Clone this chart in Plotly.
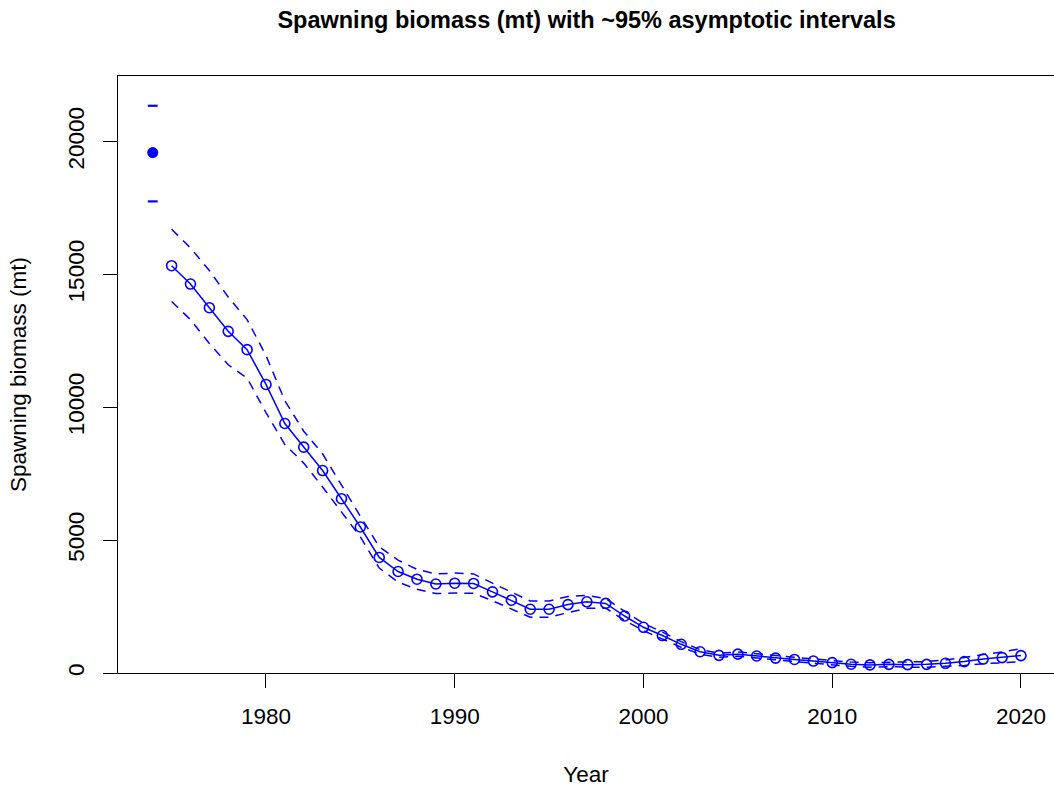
import plotly.graph_objects as go

# Spawning biomass time series (mt) with ~95% asymptotic interval bounds
years = list(range(1974, 2021))
biomass = [19590, 15330, 14640, 13750, 12860, 12170, 10860, 9390, 8500, 7620,
           6560, 5495, 4350, 3820, 3530, 3350, 3380, 3370, 3055, 2740,
           2400, 2400, 2575, 2680, 2620, 2145, 1720, 1410, 1080, 800,
           665, 710, 640, 560, 510, 450, 390, 330, 305, 325,
           315, 325, 365, 430, 525, 580, 655]
upper = [21350, 16700, 16000, 15150, 14150, 13300, 11950, 10250, 9100, 8250,
         7050, 5900, 4750, 4250, 3900, 3730, 3760, 3730, 3380, 3040,
         2710, 2710, 2880, 2920, 2800, 2320, 1870, 1540, 1180, 880,
         740, 790, 720, 640, 590, 530, 470, 410, 390, 410,
         410, 430, 490, 580, 700, 790, 920]
lower = [17750, 13980, 13300, 12400, 11600, 11100, 9800, 8600, 7900, 7000,
         6070, 5120, 3950, 3420, 3150, 2990, 3010, 3000, 2720, 2400,
         2100, 2100, 2280, 2440, 2440, 1980, 1590, 1280, 970, 710,
         590, 630, 560, 480, 430, 370, 310, 250, 220, 240,
         220, 220, 250, 280, 350, 380, 420]
x_ticks = [1980, 1990, 2000, 2010, 2020]
y_ticks = [0, 5000, 10000, 15000, 20000]
y_tick_labels = ["0", "5000", "10000", "15000", "20000"]

BLUE = "#0000FF"
FONT = "Liberation Sans, Arial, sans-serif"

fig = go.Figure()

# interval bounds for the time series (dashed)
for bound in (upper, lower):
    fig.add_trace(go.Scatter(
        x=years[1:], y=bound[1:], mode="lines",
        line=dict(color=BLUE, width=1.5, dash="9px,7px"),
        hoverinfo="skip", showlegend=False))

# main series with open circles
fig.add_trace(go.Scatter(
    x=years[1:], y=biomass[1:], mode="lines+markers",
    line=dict(color=BLUE, width=1.5),
    marker=dict(symbol="circle-open", size=10, color=BLUE,
                line=dict(width=1.6, color=BLUE)),
    showlegend=False))

# virgin biomass: filled point with interval ticks
fig.add_trace(go.Scatter(
    x=[years[0]], y=[biomass[0]], mode="markers",
    marker=dict(symbol="circle", size=11, color=BLUE),
    showlegend=False))
fig.add_trace(go.Scatter(
    x=[years[0], years[0]], y=[upper[0], lower[0]], mode="markers",
    marker=dict(symbol="line-ew", size=7, color=BLUE,
                line=dict(width=2.2, color=BLUE)),
    showlegend=False))

fig.update_layout(
    width=1054, height=787,
    margin=dict(l=118, r=0, t=76, b=114),
    paper_bgcolor="white", plot_bgcolor="white",
    font=dict(family=FONT, size=22, color="black"),
    title=dict(text="<b>Spawning biomass (mt) with ~95% asymptotic intervals</b>",
               x=0.5565, xanchor="center", y=0.985, yanchor="top",
               font=dict(family=FONT, size=23.5, color="black")),
)

fig.update_xaxes(
    range=[1972.16, 2021.75], tickvals=x_ticks,
    ticks="outside", ticklen=14, tickwidth=1.3, tickcolor="black",
    showline=True, linecolor="black", linewidth=1.3, mirror=True,
    showgrid=False, zeroline=False, ticklabelstandoff=9,
    tickfont=dict(family=FONT, size=22.5),
    title=dict(text="Year", font=dict(family=FONT, size=22.5), standoff=38),
)
fig.update_yaxes(
    range=[0, 22470], tickvals=y_ticks, ticktext=y_tick_labels, tickangle=-90,
    ticks="outside", ticklen=14, tickwidth=1.3, tickcolor="black",
    showline=True, linecolor="black", linewidth=1.3,
    showgrid=False, zeroline=False, ticklabelstandoff=10,
    tickfont=dict(family=FONT, size=22.5),
    title=dict(text="Spawning biomass (mt)", font=dict(family=FONT, size=22.5),
               standoff=30),
)

fig.write_html("out.html")
